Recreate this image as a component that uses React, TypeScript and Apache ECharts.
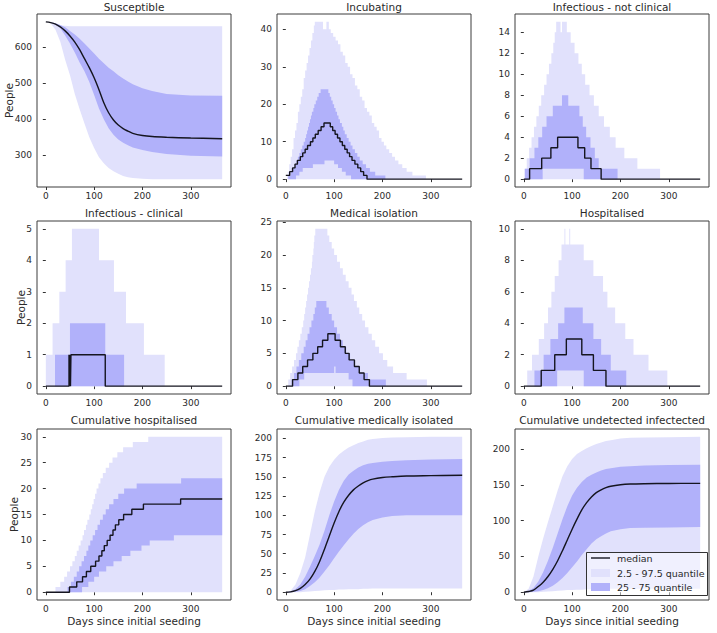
import React, { useEffect, useRef } from "react";
import * as echarts from "echarts";

type Pt = [number, number];

// ---------- axis ticks ----------
const xTicks = [0, 100, 200, 300];
const susTicks = [300, 400, 500, 600];
const incTicks = [0, 10, 20, 30, 40];
const nclTicks = [0, 2, 4, 6, 8, 10, 12, 14];
const clnTicks = [0, 1, 2, 3, 4, 5];
const medTicks = [0, 5, 10, 15, 20, 25];
const hosTicks = [0, 2, 4, 6, 8, 10];
const chTicks = [0, 5, 10, 15, 20, 25, 30];
const cmTicks = [0, 25, 50, 75, 100, 125, 150, 175, 200];
const cuTicks = [0, 50, 100, 150, 200];

// ---------- smooth series day grid ----------
const smoothDays = [0, 10, 20, 30, 40, 50, 60, 70, 80, 90, 100, 110, 120, 130, 140, 150, 160, 170, 180, 200, 220, 250, 300, 365];

// Susceptible
const susMedian = [670, 668, 664, 656, 645, 631, 614, 593, 568, 543, 515, 482, 446, 418, 398, 384, 374, 367, 361, 355, 352, 350, 348, 346];
const susLo95 = [670, 666, 648, 615, 565, 522, 470, 428, 388, 350, 320, 295, 278, 265, 256, 249, 243, 239, 237, 235, 234, 234, 234, 234];
const susHi95 = [670, 667, 663, 660, 659, 658, 658, 658, 658, 658, 658, 658, 658, 658, 658, 658, 658, 658, 658, 658, 658, 658, 658, 658];
const susLo50 = [670, 668, 663, 652, 632, 610, 585, 557, 533, 503, 467, 430, 400, 375, 357, 344, 335, 328, 322, 315, 309, 304, 299, 297];
const susHi50 = [670, 669, 666, 661, 655, 645, 635, 623, 610, 596, 582, 568, 555, 543, 533, 522, 513, 505, 497, 486, 478, 470, 466, 465];

// Cumulative medically isolated
const cmMedian = [0, 0.5, 2, 5, 10, 17, 27, 40, 56, 73, 90, 105, 117, 126, 133, 138, 142, 145, 147, 149, 150, 151, 151.5, 152];
const cmLo95 = [0, 0, 0, 0, 0.5, 1, 1.5, 2, 2.5, 3, 3, 3.5, 3.5, 4, 4, 4, 4.5, 4.5, 5, 5, 5, 5, 5, 5];
const cmHi95 = [0, 2, 10, 25, 45, 75, 105, 130, 150, 163, 172, 179, 184, 188, 191, 194, 196, 198, 199, 200.5, 201, 201.5, 202, 202];
const cmLo50 = [0, 0, 0.5, 1.5, 4, 8, 13, 19, 27, 35, 44, 53, 61, 69, 76, 82, 87, 91, 94, 97, 99, 100, 100, 100];
const cmHi50 = [0, 1, 4, 10, 20, 33, 47, 62, 80, 100, 118, 133, 145, 153, 158, 162, 165, 167, 168, 169.5, 170.5, 171.5, 172.5, 173];

// Cumulative undetected infected
const cuMedian = [0, 1, 3, 8, 14, 22, 32, 44, 58, 73, 88, 102, 115, 125, 133, 139, 143, 146, 148, 150, 151, 151.5, 151.8, 152];
const cuLo95 = [0, 0, 0, 0, 0.5, 1, 1.5, 2, 2.5, 3, 3, 3.5, 3.5, 4, 4, 4, 4.5, 4.5, 5, 5, 5, 5, 5, 5];
const cuHi95 = [0, 5, 22, 50, 75, 98, 120, 142, 162, 176, 186, 193, 197, 201, 204, 207, 209, 211, 212, 214.5, 215.5, 216, 216.5, 217];
const cuLo50 = [0, 0, 0.5, 1.5, 3, 5.5, 9, 14, 20, 27, 35, 43, 52, 60, 68, 74, 78, 82, 85, 88, 89.5, 90, 90.5, 91];
const cuHi50 = [0, 2, 6, 15, 28, 44, 62, 82, 102, 120, 135, 146, 154, 160, 164, 167, 170, 172, 173, 175, 176, 177, 177.5, 178];

// ---------- step series: [day, value from that day on] ----------
// Incubating
const incMedian: Pt[] = [[0, 1], [8, 2], [14, 3], [19, 4], [24, 5], [30, 6], [35, 7], [40, 8], [45, 9], [51, 10], [56, 11], [61, 12], [67, 13], [73, 14], [79, 15], [92, 14], [97, 13], [102, 12], [107, 11], [112, 10], [117, 9], [122, 8], [127, 7], [132, 6], [137, 5], [143, 4], [149, 3], [155, 2], [161, 1], [168, 0], [365, 0]];
const incLo95: Pt[] = [[0, 1], [3, 0], [365, 0]];
const incHi95: Pt[] = [[0, 1], [4, 2], [7, 4], [10, 6], [13, 8], [16, 11], [19, 13], [22, 15], [25, 18], [28, 20], [31, 22], [34, 24], [37, 27], [40, 29], [43, 31], [46, 33], [49, 35], [52, 37], [55, 39], [58, 41], [60, 42], [77, 40], [84, 42], [89, 40], [93, 39], [98, 38], [103, 37], [108, 36], [113, 34], [118, 33], [123, 31], [128, 30], [133, 28], [138, 27], [143, 25], [148, 24], [153, 22], [158, 21], [163, 19], [168, 18], [173, 17], [178, 15], [183, 14], [188, 13], [193, 11], [198, 10], [203, 9], [208, 8], [214, 7], [220, 6], [226, 5], [233, 4], [241, 3], [250, 2], [262, 1], [290, 0], [365, 0]];
const incLo50: Pt[] = [[0, 1], [5, 0], [21, 1], [28, 2], [35, 3], [56, 4], [80, 5], [100, 4], [108, 3], [116, 2], [124, 1], [135, 0], [365, 0]];
const incHi50: Pt[] = [[0, 1], [10, 2], [15, 3], [19, 4], [22, 5], [25, 6], [28, 7], [31, 8], [34, 9], [37, 10], [40, 11], [42, 12], [44, 13], [46, 14], [48, 15], [50, 16], [52, 17], [54, 18], [57, 19], [59, 20], [62, 21], [65, 22], [68, 23], [72, 24], [88, 23], [91, 22], [94, 21], [97, 20], [100, 19], [103, 18], [106, 17], [109, 16], [112, 15], [116, 14], [119, 13], [122, 12], [126, 11], [130, 10], [134, 9], [138, 8], [143, 7], [148, 6], [153, 5], [159, 4], [166, 3], [174, 2], [185, 1], [206, 0], [365, 0]];

// Infectious - not clinical
const nclMedian: Pt[] = [[0, 0], [12, 1], [37, 2], [56, 3], [70, 4], [112, 3], [126, 2], [139, 1], [160, 0], [365, 0]];
const nclLo95: Pt[] = [[0, 0], [365, 0]];
const nclHi95: Pt[] = [[0, 0], [2, 1], [6, 2], [11, 3], [16, 4], [21, 5], [26, 6], [31, 7], [36, 8], [42, 9], [47, 10], [52, 11], [57, 12], [61, 13], [64, 14], [67, 15], [76, 14], [79, 15], [89, 14], [97, 13], [105, 12], [113, 11], [120, 10], [127, 9], [136, 8], [145, 7], [155, 6], [166, 5], [178, 4], [190, 3], [208, 2], [235, 1], [282, 0], [365, 0]];
const nclLo50: Pt[] = [[0, 0], [39, 1], [124, 0], [365, 0]];
const nclHi50: Pt[] = [[0, 0], [2, 1], [12, 2], [22, 3], [30, 4], [38, 5], [47, 6], [60, 7], [79, 8], [92, 7], [115, 6], [122, 5], [129, 4], [138, 3], [147, 2], [155, 1], [194, 0], [365, 0]];

// Infectious - clinical
const clnMedian: Pt[] = [[0, 0], [48, 1], [49, 0], [50, 1], [51, 0], [52, 1], [123, 0], [365, 0]];
const clnLo95: Pt[] = [[0, 0], [365, 0]];
const clnHi95: Pt[] = [[0, 1], [14, 2], [28, 3], [41, 4], [54, 5], [110, 4], [141, 3], [166, 2], [203, 1], [246, 0], [365, 0]];
const clnLo50: Pt[] = [[0, 0], [365, 0]];
const clnHi50: Pt[] = [[0, 0], [19, 1], [50, 2], [123, 1], [162, 0], [365, 0]];

// Medical isolation
const medMedian: Pt[] = [[0, 0], [14, 1], [25, 2], [35, 3], [45, 4], [56, 5], [66, 6], [76, 7], [87, 8], [102, 7], [113, 6], [123, 5], [131, 4], [142, 3], [152, 2], [162, 1], [173, 0], [365, 0]];
const medLo95: Pt[] = [[0, 0], [365, 0]];
const medHi95: Pt[] = [[0, 0], [5, 1], [9, 2], [13, 3], [17, 4], [21, 5], [24, 6], [27, 7], [30, 8], [33, 9], [36, 10], [38, 11], [40, 12], [42, 13], [44, 14], [46, 15], [48, 16], [50, 17], [52, 18], [54, 19], [55, 20], [57, 21], [58, 22], [59, 23], [61, 24], [86, 23], [90, 22], [95, 21], [100, 20], [106, 19], [112, 18], [118, 17], [124, 16], [130, 15], [136, 14], [141, 13], [147, 12], [152, 11], [158, 10], [164, 9], [171, 8], [178, 7], [185, 6], [193, 5], [201, 4], [210, 3], [222, 2], [250, 1], [292, 0], [365, 0]];
const medLo50: Pt[] = [[0, 0], [28, 1], [38, 2], [100, 3], [103, 2], [130, 1], [138, 0], [365, 0]];
const medHi50: Pt[] = [[0, 0], [12, 1], [17, 2], [22, 3], [27, 4], [32, 5], [37, 6], [41, 7], [45, 8], [49, 9], [53, 10], [57, 11], [60, 12], [63, 13], [84, 12], [89, 11], [95, 10], [100, 9], [106, 8], [112, 7], [118, 6], [125, 5], [133, 4], [141, 3], [152, 2], [170, 1], [207, 0], [365, 0]];

// Hospitalised
const hosMedian: Pt[] = [[0, 0], [36, 1], [64, 2], [88, 3], [120, 2], [144, 1], [170, 0], [365, 0]];
const hosLo95: Pt[] = [[0, 0], [365, 0]];
const hosHi95: Pt[] = [[0, 0], [7, 1], [17, 2], [31, 3], [42, 4], [50, 5], [57, 6], [64, 7], [72, 8], [78, 9], [84, 10], [86, 9], [94, 10], [96, 9], [124, 8], [144, 7], [164, 6], [173, 5], [189, 4], [210, 3], [227, 2], [258, 1], [297, 0], [365, 0]];
const hosLo50: Pt[] = [[0, 0], [69, 1], [124, 0], [365, 0]];
const hosHi50: Pt[] = [[0, 0], [22, 1], [41, 2], [55, 3], [71, 4], [84, 5], [122, 4], [144, 3], [160, 2], [180, 1], [212, 0], [365, 0]];

// Cumulative hospitalised
const chMedian: Pt[] = [[0, 0], [49, 1], [64, 2], [76, 3], [84, 4], [93, 5], [103, 6], [110, 7], [116, 8], [121, 9], [127, 10], [133, 11], [139, 12], [144, 13], [151, 14], [161, 15], [178, 16], [202, 17], [279, 18], [365, 18]];
const chLo95: Pt[] = [[0, 0], [365, 0]];
const chHi95: Pt[] = [[0, 0], [20, 1], [30, 2], [38, 3], [44, 4], [50, 5], [55, 6], [60, 7], [64, 8], [68, 9], [72, 10], [76, 11], [79, 12], [83, 13], [86, 14], [90, 15], [93, 16], [96, 17], [99, 18], [102, 19], [105, 20], [109, 21], [113, 22], [118, 23], [124, 24], [131, 25], [138, 26], [148, 27], [160, 28], [180, 29], [212, 30], [365, 30]];
const chLo50: Pt[] = [[0, 0], [75, 1], [88, 2], [100, 3], [110, 4], [125, 5], [140, 6], [157, 7], [175, 8], [198, 9], [215, 10], [265, 11], [365, 11]];
const chHi50: Pt[] = [[0, 0], [45, 1], [52, 2], [58, 3], [64, 4], [69, 5], [74, 6], [79, 7], [84, 8], [88, 9], [92, 10], [97, 11], [102, 12], [107, 13], [112, 14], [118, 15], [124, 16], [131, 17], [140, 18], [150, 19], [162, 20], [188, 21], [280, 22], [365, 22]];

const titles = [
  "Susceptible",
  "Incubating",
  "Infectious - not clinical",
  "Infectious - clinical",
  "Medical isolation",
  "Hospitalised",
  "Cumulative hospitalised",
  "Cumulative medically isolated",
  "Cumulative undetected infectected",
];

const legendLabels = ["median", "2.5 - 97.5 quantile", "25 - 75 quantile"];

// ---------- helpers ----------
const zipDays = (vals: number[]): Pt[] => smoothDays.map((d, i) => [d, vals[i]] as Pt);

interface Panel {
  step: boolean;
  median: Pt[];
  lo95: Pt[];
  hi95: Pt[];
  lo50: Pt[];
  hi50: Pt[];
  yMin: number;
  yMax: number;
  ticks: number[];
}

const panels: Panel[] = [
  { step: false, median: zipDays(susMedian), lo95: zipDays(susLo95), hi95: zipDays(susHi95), lo50: zipDays(susLo50), hi50: zipDays(susHi50), yMin: 212.2, yMax: 691.8, ticks: susTicks },
  { step: true, median: incMedian, lo95: incLo95, hi95: incHi95, lo50: incLo50, hi50: incHi50, yMin: -2.1, yMax: 44.1, ticks: incTicks },
  { step: true, median: nclMedian, lo95: nclLo95, hi95: nclHi95, lo50: nclLo50, hi50: nclHi50, yMin: -0.75, yMax: 15.75, ticks: nclTicks },
  { step: true, median: clnMedian, lo95: clnLo95, hi95: clnHi95, lo50: clnLo50, hi50: clnHi50, yMin: -0.25, yMax: 5.25, ticks: clnTicks },
  { step: true, median: medMedian, lo95: medLo95, hi95: medHi95, lo50: medLo50, hi50: medHi50, yMin: -1.2, yMax: 25.2, ticks: medTicks },
  { step: true, median: hosMedian, lo95: hosLo95, hi95: hosHi95, lo50: hosLo50, hi50: hosHi50, yMin: -0.5, yMax: 10.5, ticks: hosTicks },
  { step: true, median: chMedian, lo95: chLo95, hi95: chHi95, lo50: chLo50, hi50: chHi50, yMin: -1.5, yMax: 31.5, ticks: chTicks },
  { step: false, median: zipDays(cmMedian), lo95: zipDays(cmLo95), hi95: zipDays(cmHi95), lo50: zipDays(cmLo50), hi50: zipDays(cmHi50), yMin: -10.1, yMax: 212.1, ticks: cmTicks },
  { step: false, median: zipDays(cuMedian), lo95: zipDays(cuLo95), hi95: zipDays(cuHi95), lo50: zipDays(cuLo50), hi50: zipDays(cuHi50), yMin: -10.85, yMax: 227.85, ticks: cuTicks },
];

const stepPts = (pts: Pt[]): Pt[] => {
  const out: Pt[] = [];
  for (let i = 0; i < pts.length; i++) {
    out.push(pts[i]);
    if (i + 1 < pts.length) out.push([pts[i + 1][0], pts[i][1]]);
  }
  return out;
};

// ---------- styling ----------
const W = 717;
const H = 633;
const FONT = "DejaVu Sans, Verdana, sans-serif";
const LIGHT = "#E1E1FC";
const MID = "#B1B1FA";
const LINE = "#15151f";
const TXT = "#2a2a2a";
const gridLefts = [37, 277, 515];
const gridTops = [14, 221, 429];
const gridHeights = [173, 173, 171];
const GW = 194;
const titleY = [7, 213, 420];
const peopleGap = [23, 11, 18];

function bandSeries(i: number, lo: Pt[], hi: Pt[], step: boolean, color: string) {
  const upper = step ? stepPts(hi) : hi;
  const lower = step ? stepPts(lo) : lo;
  return {
    type: "custom",
    xAxisIndex: i,
    yAxisIndex: i,
    silent: true,
    z: 2,
    data: [[0, 0]],
    renderItem: (_params: any, api: any) => {
      const points: number[][] = [];
      upper.forEach((p) => points.push(api.coord(p)));
      for (let k = lower.length - 1; k >= 0; k--) points.push(api.coord(lower[k]));
      return { type: "polygon", shape: { points }, style: { fill: color, stroke: null } };
    },
  };
}

function buildOption() {
  const grid: any[] = [];
  const xAxis: any[] = [];
  const yAxis: any[] = [];
  const series: any[] = [];
  const graphic: any[] = [];

  panels.forEach((p, i) => {
    const col = i % 3;
    const row = Math.floor(i / 3);
    grid.push({
      left: gridLefts[col],
      top: gridTops[row],
      width: GW,
      height: gridHeights[row],
      show: true,
      borderColor: "#3c3c3c",
      borderWidth: 1,
      backgroundColor: "transparent",
      containLabel: false,
      outerBoundsMode: "none",
    });
    xAxis.push({
      type: "value",
      gridIndex: i,
      min: -18.25,
      max: 383.25,
      splitLine: { show: false },
      axisLine: { show: false },
      axisTick: { show: true, length: 3, customValues: xTicks, lineStyle: { color: "#333" } },
      axisLabel: { customValues: xTicks, margin: 4, fontSize: 9, color: TXT, fontFamily: FONT },
      name: row === 2 ? "Days since initial seeding" : "",
      nameLocation: "middle",
      nameGap: 15,
      nameMoveOverlap: false,
      nameTextStyle: { fontSize: 10.5, color: TXT, fontFamily: FONT },
    });
    yAxis.push({
      type: "value",
      gridIndex: i,
      min: p.yMin,
      max: p.yMax,
      splitLine: { show: false },
      axisLine: { show: false },
      axisTick: { show: true, length: 3, customValues: p.ticks, lineStyle: { color: "#333" } },
      axisLabel: { customValues: p.ticks, margin: 5, fontSize: 9, color: TXT, fontFamily: FONT },
      name: col === 0 ? "People" : "",
      nameLocation: "middle",
      nameGap: peopleGap[row],
      nameMoveOverlap: false,
      nameTextStyle: { fontSize: 10.5, color: TXT, fontFamily: FONT },
    });

    series.push(bandSeries(i, p.lo95, p.hi95, p.step, LIGHT));
    series.push(bandSeries(i, p.lo50, p.hi50, p.step, MID));
    series.push({
      type: "line",
      name: legendLabels[0],
      xAxisIndex: i,
      yAxisIndex: i,
      data: p.median,
      showSymbol: false,
      symbol: "none",
      silent: true,
      z: 3,
      step: p.step ? "end" : false,
      smooth: p.step ? false : 0.35,
      lineStyle: { color: LINE, width: 1.4 },
    });

    graphic.push({
      type: "text",
      x: gridLefts[col] + GW / 2,
      y: titleY[row],
      style: {
        text: titles[i],
        align: "center",
        verticalAlign: "middle",
        fontSize: 10.5,
        fontFamily: FONT,
        fill: TXT,
      },
    });
  });

  // legend box (inside last panel), semi-transparent like the reference
  const Z = 100;
  graphic.push(
    { type: "rect", z: Z, shape: { x: 586.5, y: 552.5, width: 121, height: 43 }, style: { fill: "rgba(255,255,255,0.5)", stroke: "#333", lineWidth: 1 } },
    { type: "line", z: Z, shape: { x1: 591, y1: 558, x2: 610, y2: 558 }, style: { stroke: LINE, lineWidth: 1.4 } },
    { type: "rect", z: Z, shape: { x: 591, y: 569, width: 19, height: 8 }, style: { fill: LIGHT } },
    { type: "rect", z: Z, shape: { x: 591, y: 583, width: 19, height: 8 }, style: { fill: MID } },
    { type: "text", z: Z, x: 617, y: 558, style: { text: legendLabels[0], align: "left", verticalAlign: "middle", fontSize: 9.5, fontFamily: FONT, fill: TXT } },
    { type: "text", z: Z, x: 617, y: 573, style: { text: legendLabels[1], align: "left", verticalAlign: "middle", fontSize: 9.5, fontFamily: FONT, fill: TXT } },
    { type: "text", z: Z, x: 617, y: 587, style: { text: legendLabels[2], align: "left", verticalAlign: "middle", fontSize: 9.5, fontFamily: FONT, fill: TXT } }
  );

  return {
    animation: false,
    backgroundColor: "#ffffff",
    grid,
    xAxis,
    yAxis,
    series,
    graphic,
  };
}

export default function App() {
  const ref = useRef<HTMLDivElement>(null);
  useEffect(() => {
    if (!ref.current) return;
    const chart = echarts.init(ref.current, null, { renderer: "svg", width: W, height: H });
    chart.setOption(buildOption() as any);
    return () => chart.dispose();
  }, []);
  return (
    <div
      ref={ref}
      style={{ position: "fixed", left: 0, top: 0, width: W, height: H, background: "#fff" }}
    />
  );
}
